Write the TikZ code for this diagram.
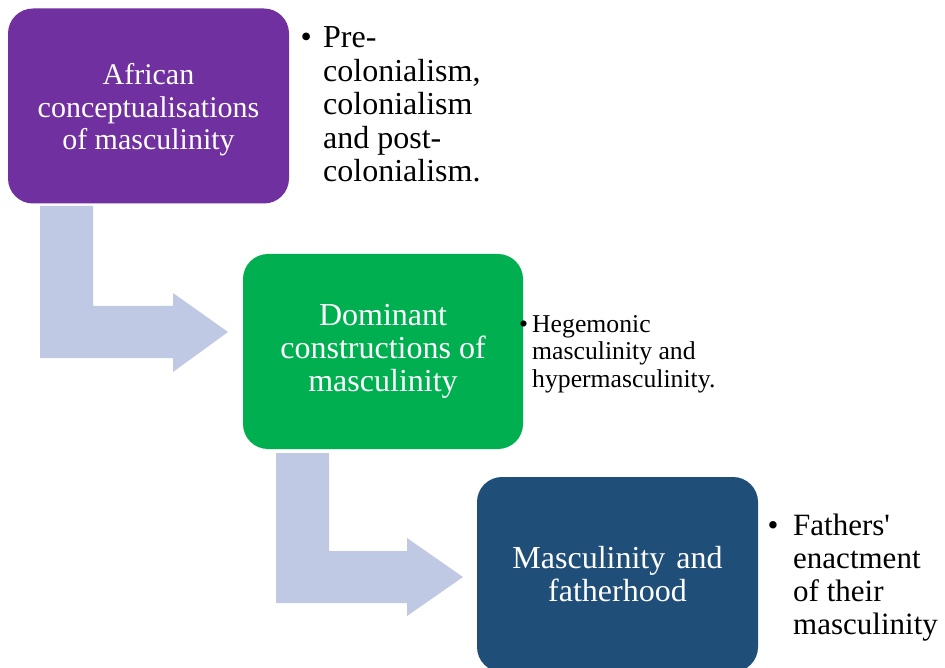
\documentclass[tikz,border=0pt]{standalone}
\usepackage{fontspec}
\setmainfont{Liberation Serif}
\definecolor{boxpurple}{HTML}{7030A0}
\definecolor{boxgreen}{HTML}{00B050}
\definecolor{boxblue}{HTML}{1F4E79}
\definecolor{arrowfill}{RGB}{192,201,228}
\begin{document}
\begin{tikzpicture}[x=1pt,y=-1pt,
  stage/.style={rounded corners=25pt, minimum width=281pt, minimum height=195pt,
    inner sep=0pt, text=white, align=center},
  bulletnote/.style={anchor=base west, inner sep=0pt, text=black},
  bentarrow/.style={fill=arrowfill, draw=none}]
\useasboundingbox (0,0) rectangle (945,668);

% bent arrows (behind boxes)
\fill[bentarrow] (40,206) -- (93,206) -- (93,306) -- (173,306) -- (173,293)
  -- (228,332) -- (173,372) -- (173,358) -- (40,358) -- cycle;
\fill[bentarrow] (276,453) -- (329,453) -- (329,551) -- (407,551) -- (407,538)
  -- (463,577) -- (407,616) -- (407,603) -- (276,603) -- cycle;

% stage boxes
\node[stage, fill=boxpurple, font=\fontsize{30}{32.5}\selectfont] (b1) at (148.5,106)
  {\\[-4pt]African\\conceptualisations\\of masculinity};
\node[stage, fill=boxgreen, minimum width=280pt, font=\fontsize{32}{33}\selectfont] (b2) at (383,351.5)
  {Dominant\\constructions of\\masculinity};
\node[stage, fill=boxblue, font=\fontsize{32}{33}\selectfont] (b3) at (617.5,574.5)
  {Masculinity\hspace{11pt}and\\fatherhood};

% bullet notes
\node[bulletnote] (n1) at (300.5,48) {\parbox[t]{200pt}{\fontsize{32}{33.5}\selectfont
  \hangindent=22.5pt\hangafter=1 \makebox[22.5pt][l]{•}Pre-\newline colonialism,\newline
  colonialism\newline and post-\newline colonialism.}};
\node[bulletnote] (n2) at (519,332) {\parbox[t]{220pt}{\fontsize{25.7}{27.5}\selectfont
  \hangindent=13pt\hangafter=1 \makebox[13pt][l]{•}Hegemonic\newline masculinity and\newline
  hypermasculinity.}};
\node[bulletnote] (n3) at (767.5,535) {\parbox[t]{178pt}{\fontsize{31}{33}\selectfont
  \hangindent=25.5pt\hangafter=1 \makebox[25.5pt][l]{•}Fathers\textquotesingle\newline enactment\newline
  of their\newline masculinity}};
\end{tikzpicture}
\end{document}
